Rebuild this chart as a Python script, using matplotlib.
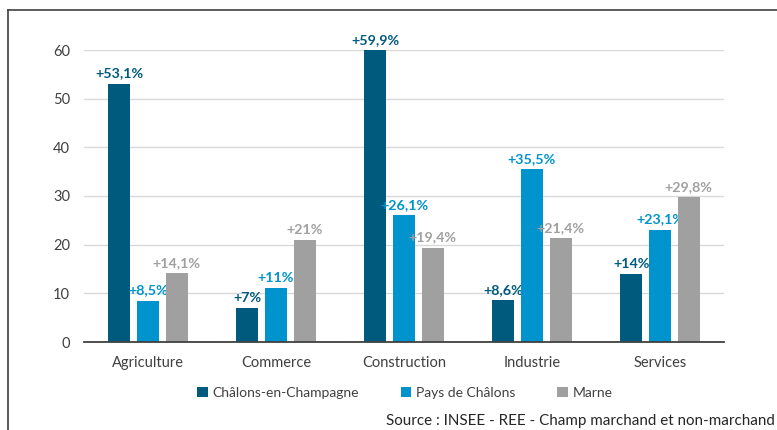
import matplotlib
matplotlib.use("Agg")
import matplotlib.pyplot as plt
import numpy as np
from matplotlib.lines import Line2D
from matplotlib.patches import Patch

categories = ["Agriculture", "Commerce", "Construction", "Industrie", "Services"]
series_names = ["Châlons-en-Champagne", "Pays de Châlons", "Marne"]
chalons = [53.1, 7, 59.9, 8.6, 14]
pays = [8.5, 11, 26.1, 35.5, 23.1]
marne = [14.1, 21, 19.4, 21.4, 29.8]
label_chalons = ["+53,1%", "+7%", "+59,9%", "+8,6%", "+14%"]
label_pays = ["+8,5%", "+11%", "+26,1%", "+35,5%", "+23,1%"]
label_marne = ["+14,1%", "+21%", "+19,4%", "+21,4%", "+29,8%"]
yticks = [0, 10, 20, 30, 40, 50, 60]
source = "Source : INSEE - REE - Champ marchand et non-marchand"

colors = ["#005A7D", "#0093CD", "#A0A0A0"]
plt.rcParams['font.family'] = ['Lato', 'DejaVu Sans']

fig = plt.figure(figsize=(7.77, 4.30), dpi=100)
ax = fig.add_axes([84/777, 1-342/430, 640/777, (342-50)/430])

x = np.arange(len(categories))
w = 0.172
pitch = 0.225
all_vals = [chalons, pays, marne]
all_labels = [label_chalons, label_pays, label_marne]
for i, (vals, labs, c) in enumerate(zip(all_vals, all_labels, colors)):
    pos = x + (i - 1) * pitch
    ax.bar(pos, vals, width=w, color=c, zorder=3)
    for p, v, t in zip(pos, vals, labs):
        ax.annotate(t, (p, v), xytext=(0, 3), textcoords="offset points",
                    ha="center", va="bottom", color=c, fontsize=10.3,
                    fontweight="bold", clip_on=False, annotation_clip=False)

ax.set_xlim(-0.5, 4.5)
ax.set_ylim(0, 60)
ax.set_yticks(yticks)
ax.set_yticklabels([str(t) for t in yticks], fontsize=10.5, color="#404040")
ax.set_xticks(x)
ax.set_xticklabels(categories, fontsize=10.5, color="#404040")
ax.tick_params(axis="both", length=0)
ax.tick_params(axis="y", pad=10)
ax.tick_params(axis="x", pad=10)
ax.grid(axis="y", color="#D9D9D9", linewidth=1, zorder=0)
for s in ["top", "right", "left"]:
    ax.spines[s].set_visible(False)
ax.spines["bottom"].set_color("#404040")
ax.spines["bottom"].set_linewidth(1.3)
ax.spines["bottom"].set_zorder(4)

handles = [Patch(facecolor=c, edgecolor="none") for c in colors]
fig.legend(handles, series_names, loc="center", bbox_to_anchor=(405/777, 1-393/430),
           ncol=3, frameon=False, fontsize=10, handlelength=0.75, handleheight=0.75,
           handletextpad=0.35, columnspacing=3.0, labelcolor="#404040")

fig.text(775/777, 1-421/430, source, ha="right", va="center", fontsize=10.9, color="#262626")

# outer frame (top and left)
fig.add_artist(Line2D([8/777, 8/777], [0, 1-10/430], transform=fig.transFigure, color="#404040", lw=1.2))
fig.add_artist(Line2D([8/777, 1], [1-10/430, 1-10/430], transform=fig.transFigure, color="#404040", lw=1.2))

fig.savefig("out.png", dpi=100)
